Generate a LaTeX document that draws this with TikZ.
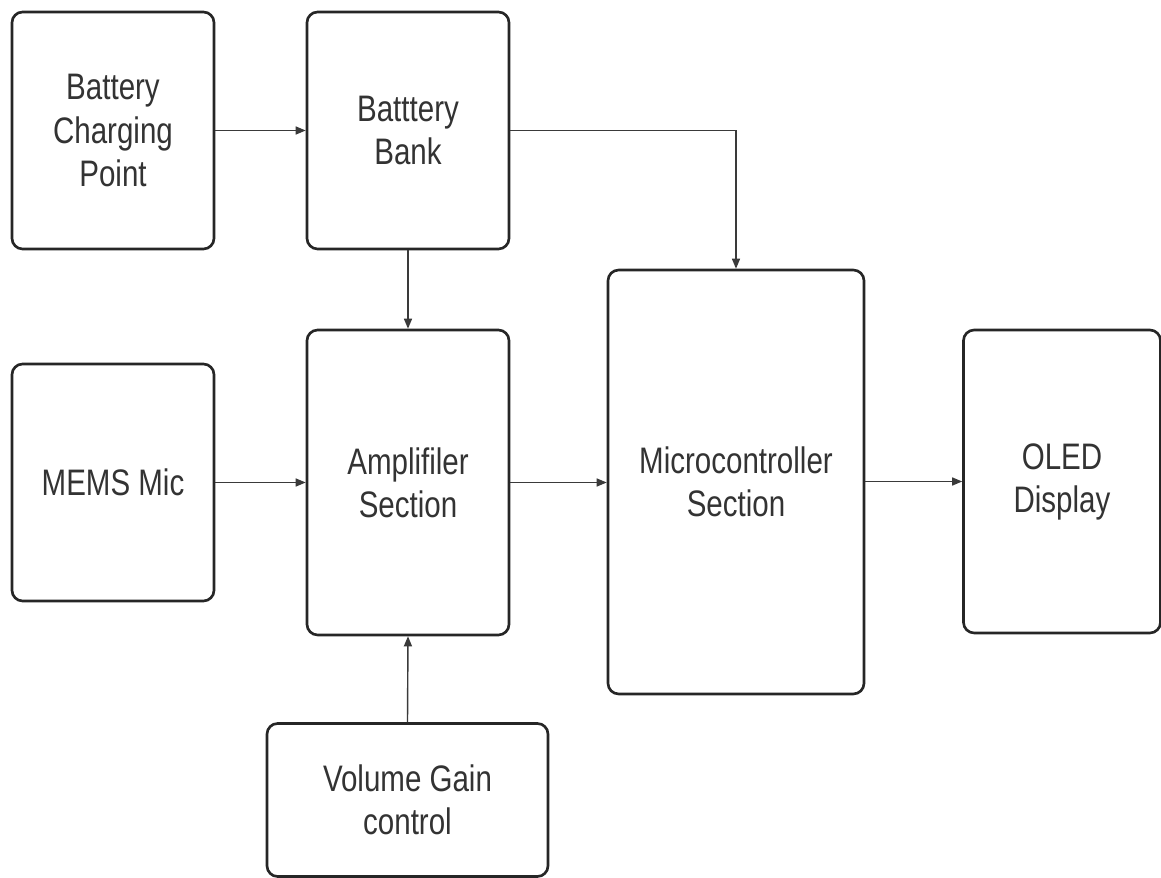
\documentclass[tikz,border=0pt]{standalone}
\usepackage{fontspec}
\setmainfont{Liberation Sans}[FakeStretch=0.8]
\usepackage{tikz}
\usetikzlibrary{arrows.meta,positioning}
\usepackage{xcolor}
\definecolor{boxline}{HTML}{262626}
\definecolor{wireline}{HTML}{3A3A3A}
\definecolor{labeltext}{HTML}{333333}

\tikzset{
  block/.style={draw=boxline,line width=1.5pt,rounded corners=6pt,fill=white,
    align=center,text=labeltext,font=\fontsize{21}{24.5}\selectfont,inner sep=0pt},
  wire/.style={draw=wireline,line width=0.8pt,-{Triangle[length=2mm,width=1.6mm]}}
}

\begin{document}
\begin{tikzpicture}[x=0.02cm,y=-0.02cm]
  \useasboundingbox (0,0) rectangle (1161,878);
  % Blocks
  \node[block,minimum width=4.04cm,minimum height=4.74cm] (charge) at (113,130.5) {Battery\\Charging\\Point};
  \node[block,minimum width=4.04cm,minimum height=4.74cm] (bank) at (408,130.5) {Batttery\\Bank};
  \node[block,minimum width=4.04cm,minimum height=4.74cm] (mic) at (113,482.5) {MEMS Mic};
  \node[block,minimum width=4.04cm,minimum height=6.10cm] (amp) at (408,482.5) {Amplifiler\\Section};
  \node[block,minimum width=5.12cm,minimum height=8.48cm] (mcu) at (736,482) {Microcontroller\\Section};
  \node[block,minimum width=3.94cm,minimum height=6.06cm] (oled) at (1062,481.5) {OLED\\Display};
  \node[block,minimum width=5.62cm,minimum height=3.06cm] (gain) at (407.5,800) {Volume Gain\\control};
  % Connections
  \draw[wire] (charge.east) -- (bank.west);
  \draw[wire] (bank.south) -- (amp.north);
  \draw[wire] (bank.east) -| (mcu.north);
  \draw[wire] (mic.east) -- (amp.west);
  \draw[wire] (amp.east) -- (amp.east -| mcu.west);
  \draw[wire] (mcu.east |- oled.west) -- (oled.west);
  \draw[wire] (gain.north) -- (amp.south);
\end{tikzpicture}
\end{document}
